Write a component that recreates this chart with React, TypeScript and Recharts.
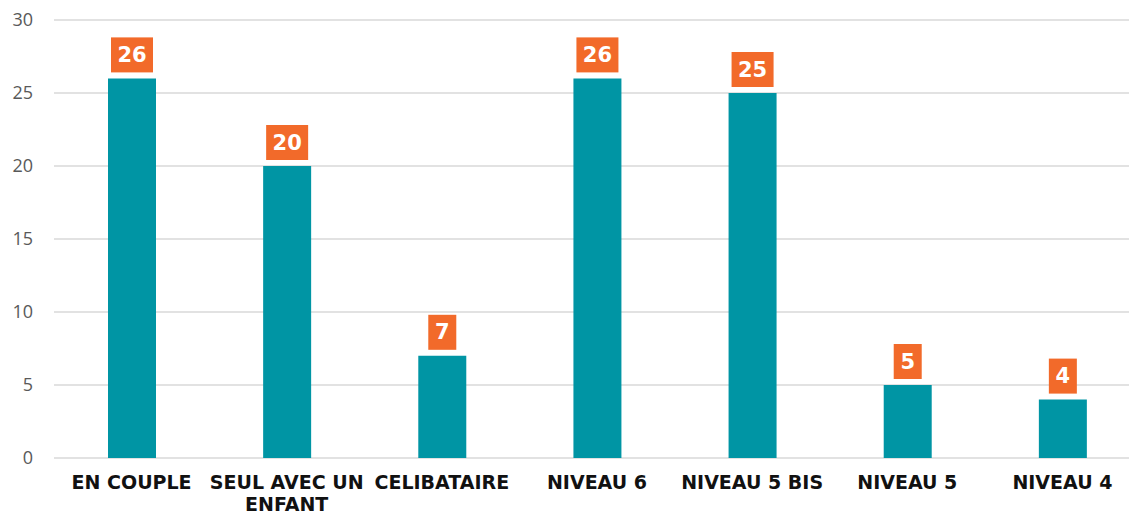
import React from "react"
import { BarChart, Bar, XAxis, YAxis, CartesianGrid, LabelList, Text } from "recharts"

const categories = ["EN COUPLE", "SEUL AVEC UN ENFANT", "CELIBATAIRE", "NIVEAU 6", "NIVEAU 5 BIS", "NIVEAU 5", "NIVEAU 4"]
const values = [26, 20, 7, 26, 25, 5, 4]
const yTicks = [0, 5, 10, 15, 20, 25, 30]

const data = categories.map((name, i) => ({ name, value: values[i] }))

const TEAL = "#0095A4"
const ORANGE = "#F26A2A"
const LABEL_FONT = "'DejaVu Sans', sans-serif"

// tick de l'axe X, avec retour a la ligne
const CategoryTick = (props: any) => {
  const { x, y, payload } = props
  return (
    <Text
      x={x}
      y={y + 10}
      width={165}
      textAnchor="middle"
      verticalAnchor="start"
      lineHeight={22}
      style={{ fontFamily: LABEL_FONT, fontWeight: 700, fontSize: 19, fill: "#111" }}
    >
      {payload.value}
    </Text>
  )
}

// etiquette orange au-dessus de chaque barre
const ValueBadge = (props: any) => {
  const { x, y, width, value } = props
  const text = String(value)
  const w = text.length > 1 ? 42 : 28
  const h = 35
  const cx = x + width / 2
  const top = y - 6 - h
  return (
    <g>
      <rect x={cx - w / 2} y={top} width={w} height={h} fill={ORANGE} />
      <text
        x={cx}
        y={top + h / 2 + 1}
        textAnchor="middle"
        dominantBaseline="middle"
        fill="#fff"
        style={{ fontFamily: LABEL_FONT, fontWeight: 700, fontSize: 21 }}
      >
        {text}
      </text>
    </g>
  )
}

export default function App() {
  return (
    <div style={{ position: "fixed", top: 0, left: 0, width: 1129, height: 515, overflow: "hidden", background: "#fff" }}>
      <BarChart
        width={1140}
        height={515}
        data={data}
        margin={{ top: 20, right: 0, left: 0, bottom: 0 }}
      >
        <CartesianGrid vertical={false} stroke="#D9D9D9" strokeWidth={1.5} />
        <XAxis
          dataKey="name"
          axisLine={false}
          tickLine={false}
          height={57}
          interval={0}
          tick={<CategoryTick />}
        />
        <YAxis
          domain={[0, 30]}
          ticks={yTicks}
          width={54}
          axisLine={false}
          tickLine={false}
          tickSize={0}
          tickMargin={21}
          tick={{ fill: "#595959", fontSize: 18, fontFamily: "'Open Sans', sans-serif" }}
        />
        <Bar dataKey="value" fill={TEAL} barSize={48} isAnimationActive={false}>
          <LabelList dataKey="value" content={<ValueBadge />} />
        </Bar>
      </BarChart>
    </div>
  )
}
